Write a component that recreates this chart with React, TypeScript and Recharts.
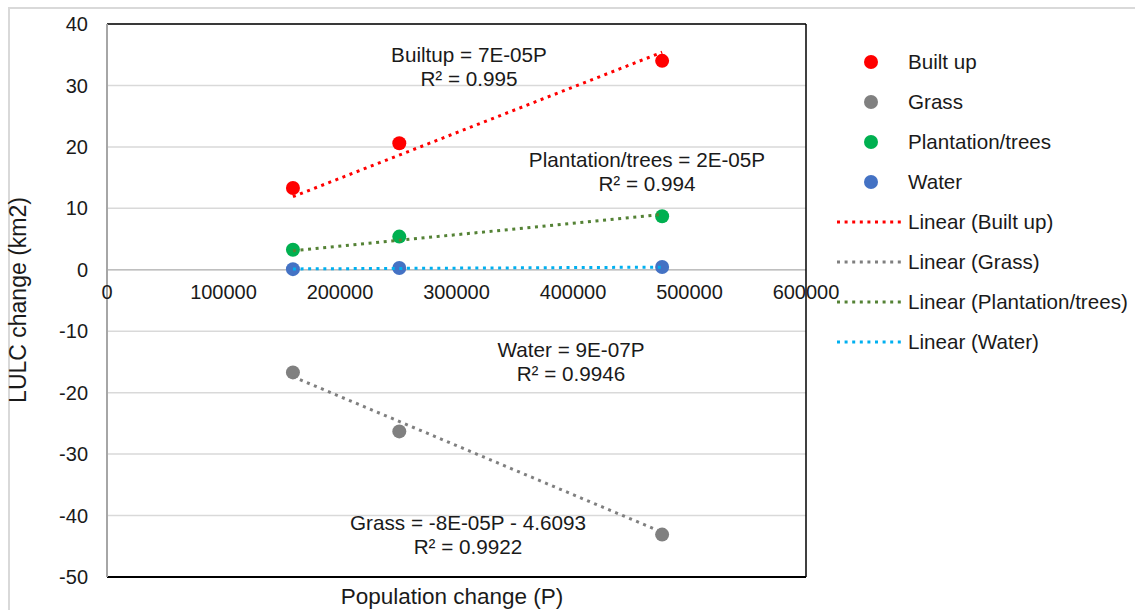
import React from 'react';
import {
  ScatterChart,
  Scatter,
  XAxis,
  YAxis,
  CartesianGrid,
  ReferenceLine,
  ReferenceDot,
} from 'recharts';

// ---- data ----
const populationChange = [159600, 250900, 476500];
const builtUp = [13.3, 20.6, 34.0];
const grass = [-16.7, -26.3, -43.1];
const plantation = [3.25, 5.4, 8.7];
const water = [0.1, 0.3, 0.45];

const trendP = [159600, 476500];
const builtUpTrend = [11.9, 35.4];
const grassTrend = [-17.4, -42.7];
const plantationTrend = [3.1, 9.0];
const waterTrend = [0.14, 0.43];

const xTicks = [0, 100000, 200000, 300000, 400000, 500000, 600000];
const yTicks = [-50, -40, -30, -20, -10, 0, 10, 20, 30, 40];

const seriesNames = ['Built up', 'Grass', 'Plantation/trees', 'Water'];
const pointColors = ['#FF0000', '#808080', '#00B050', '#4472C4'];
const trendColors = ['#FF0000', '#7F7F7F', '#548235', '#00B0F0'];
const trendNames = ['Linear (Built up)', 'Linear (Grass)', 'Linear (Plantation/trees)', 'Linear (Water)'];

const equations = [
  { lines: ['Builtup = 7E-05P', 'R² = 0.995'], left: 469, top: 43 },
  { lines: ['Plantation/trees = 2E-05P', 'R² = 0.994'], left: 647, top: 148 },
  { lines: ['Water = 9E-07P', 'R² = 0.9946'], left: 571, top: 338 },
  { lines: ['Grass = -8E-05P - 4.6093', 'R² = 0.9922'], left: 468, top: 511 },
];

const pointSeries = [builtUp, grass, plantation, water];
const trendSeries = [builtUpTrend, grassTrend, plantationTrend, waterTrend];

const FONT = "'Liberation Sans', Arial, sans-serif";
const TEXT = '#1a1a1a';
const DASH = '3 4.6';

const toPoints = (xs: number[], ys: number[]) => xs.map((x, i) => ({ x, y: ys[i] }));

export default function App() {
  const W = 1135;
  const H = 610;
  return (
    <div style={{ position: 'absolute', left: 0, top: 0, width: W, height: H, overflow: 'hidden', background: '#fff', fontFamily: FONT }}>
      <div style={{ position: 'absolute', left: 8, top: 7, width: 1150, height: 640, border: '2px solid #d9d9d9', boxSizing: 'border-box' }} />
      <div style={{ position: 'absolute', left: 0, top: 0 }}>
        <ScatterChart width={W} height={H} margin={{ top: 24, right: 329, bottom: 33, left: 0 }}>
          <CartesianGrid stroke="#d9d9d9" strokeWidth={1.5} verticalValues={xTicks} horizontalValues={yTicks} />
          <XAxis
            type="number"
            dataKey="x"
            domain={[0, 600000]}
            ticks={xTicks}
            height={0}
            tick={false}
            tickLine={false}
            axisLine={false}
            allowDataOverflow
          />
          <YAxis
            type="number"
            dataKey="y"
            domain={[-50, 40]}
            ticks={yTicks}
            width={107}
            interval={0}
            tickLine={false}
            tickSize={0}
            tickMargin={19}
            axisLine={{ stroke: '#a6a6a6', strokeWidth: 2 }}
            tick={{ fontSize: 20, fill: TEXT, fontFamily: FONT }}
            allowDataOverflow
          />
          <ReferenceLine y={0} stroke="#bfbfbf" strokeWidth={1.5} />
          <ReferenceLine y={40} stroke="#000" strokeWidth={1.5} />
          <ReferenceLine y={-50} stroke="#000" strokeWidth={2} />
          <ReferenceLine x={600000} stroke="#000" strokeWidth={1.5} />
          {xTicks.map((t) => (
            <ReferenceDot
              key={'xl' + t}
              x={t}
              y={0}
              r={0}
              fill="none"
              stroke="none"
              ifOverflow="visible"
              label={{ value: String(t), position: 'bottom', offset: 15, fontSize: 20, fill: TEXT, fontFamily: FONT }}
            />
          ))}
          {pointSeries.map((ys, i) => (
            <Scatter
              key={'p' + i}
              name={seriesNames[i]}
              data={toPoints(populationChange, ys)}
              fill={pointColors[i]}
              isAnimationActive={false}
              shape={(props: any) => <circle cx={props.cx} cy={props.cy} r={7} fill={pointColors[i]} />}
            />
          ))}
          {trendSeries.map((ys, i) => (
            <Scatter
              key={'t' + i}
              name={trendNames[i]}
              data={toPoints(trendP, ys)}
              fill="none"
              isAnimationActive={false}
              line={{ stroke: trendColors[i], strokeWidth: 3, strokeDasharray: DASH }}
              shape={() => <g />}
            />
          ))}
        </ScatterChart>
      </div>

      {equations.map((eq, i) => (
        <div
          key={'eq' + i}
          style={{
            position: 'absolute',
            left: eq.left,
            top: eq.top,
            transform: 'translateX(-50%)',
            textAlign: 'center',
            whiteSpace: 'nowrap',
            fontSize: 20.7,
            lineHeight: '24px',
            color: TEXT,
          }}
        >
          {eq.lines.map((l, j) => (
            <div key={j}>{l}</div>
          ))}
        </div>
      ))}

      {/* axis titles */}
      <div style={{ position: 'absolute', left: 452, top: 597, transform: 'translate(-50%, -50%)', fontSize: 22.5, color: TEXT, whiteSpace: 'nowrap' }}>
        Population change (P)
      </div>
      <div style={{ position: 'absolute', left: 18, top: 300, transform: 'translate(-50%, -50%) rotate(-90deg)', fontSize: 23, color: TEXT, whiteSpace: 'nowrap' }}>
        LULC change (km2)
      </div>

      {/* legend */}
      {seriesNames.map((n, i) => (
        <div key={'lg' + i} style={{ position: 'absolute', left: 836, top: 62 + i * 40 - 12, height: 24, display: 'flex', alignItems: 'center' }}>
          <svg width={70} height={24}>
            <circle cx={35} cy={12} r={7} fill={pointColors[i]} />
          </svg>
          <span style={{ marginLeft: 2, fontSize: 20.6, color: TEXT, whiteSpace: 'nowrap' }}>{n}</span>
        </div>
      ))}
      {trendNames.map((n, i) => (
        <div key={'lt' + i} style={{ position: 'absolute', left: 836, top: 222 + i * 40 - 12, height: 24, display: 'flex', alignItems: 'center' }}>
          <svg width={70} height={24}>
            <line x1={1} y1={12} x2={67} y2={12} stroke={trendColors[i]} strokeWidth={3} strokeDasharray={DASH} />
          </svg>
          <span style={{ marginLeft: 2, fontSize: 20.6, color: TEXT, whiteSpace: 'nowrap' }}>{n}</span>
        </div>
      ))}
    </div>
  );
}
